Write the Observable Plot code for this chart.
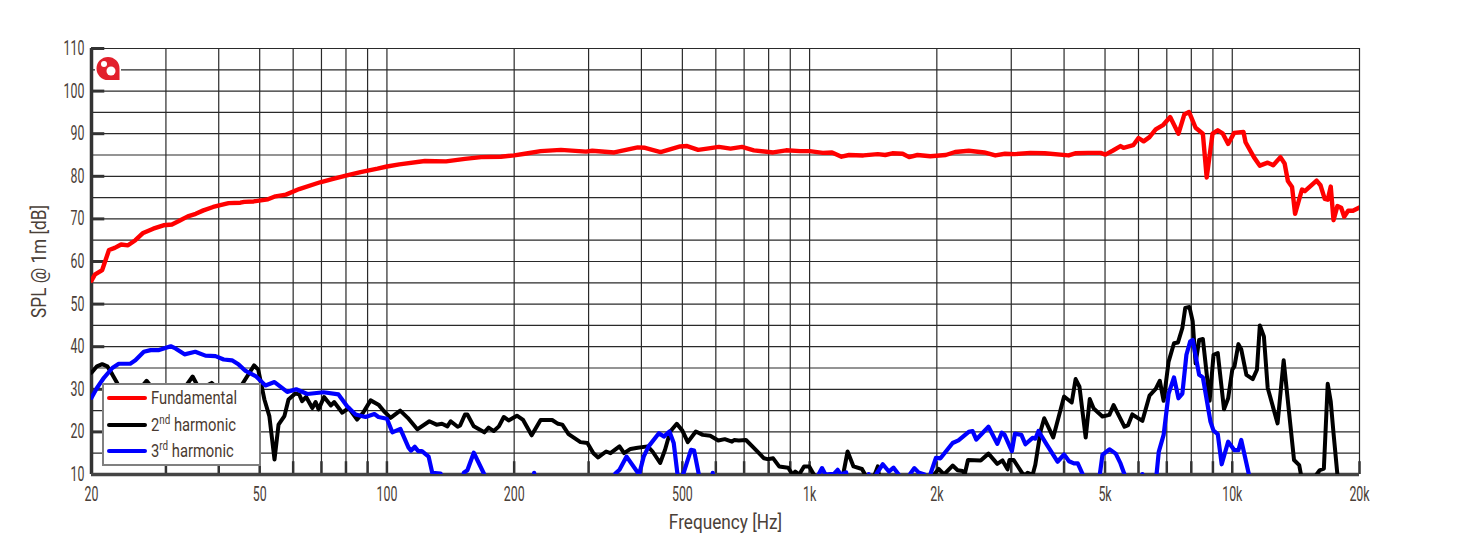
<!DOCTYPE html>
<html><head><meta charset="utf-8">
<script src="https://cdn.jsdelivr.net/npm/d3@7"></script>
<script src="https://cdn.jsdelivr.net/npm/@observablehq/plot@0.6"></script>
<style>
html,body{margin:0;padding:0;background:#fff;}
#wrap{position:relative;width:1457px;height:538px;overflow:hidden;}
#wrap svg{display:block;}
#wrap svg text{font-family:Roboto,sans-serif;}
#legend{position:absolute;left:102px;top:383px;width:155px;height:79px;border:2px solid #808080;background:#fff;
 font-family:Roboto,sans-serif;font-size:18px;color:#4a3a30;}
#legend .row{position:absolute;left:3px;height:20px;white-space:nowrap;}
#legend .s{position:absolute;left:0;top:9px;width:40px;height:4px;border-radius:2px;}
#legend .t{position:absolute;left:44px;top:0;line-height:22px;transform:scaleX(.82);transform-origin:left center;}
#legend sup{font-size:12px;line-height:0;}
#logo{position:absolute;left:95px;top:55px;}
</style></head><body>
<div id="wrap"></div>
<script>
const fundFreq=[20,20.4,21.2,22,22.7,23.5,24.4,25.4,26.5,28,29.6,31,32.2,33.8,35.3,36.8,38.8,42.2,45,46,48.4,52.3,54.5,57.7,62,69.5,74.6,80.4,86.6,95,100,107,123,138,153,167,186,200,212,231,258,296,306,345,392,408,444,494,513,545,572,610,650,692,738,820,880,950,1000,1075,1130,1190,1240,1340,1450,1510,1570,1660,1720,1800,1930,2100,2210,2380,2590,2750,2900,3060,3330,3600,4100,4250,4560,4880,5010,5210,5440,5530,5830,6000,6170,6370,6590,6870,7130,7460,7700,7900,8190,8520,8700,8980,9240,9500,9780,10100,10630,10750,11250,11620,12130,12500,13000,13300,13540,13850,14080,14620,14850,15830,16170,16550,16820,17100,17360,17730,18100,18400,18800,19300,20000];
const fundDb=[55.5,57,58,62.7,63.2,64,63.8,65,66.7,67.7,68.5,68.7,69.5,70.6,71.2,72,72.8,73.7,73.8,74,74.1,74.6,75.3,75.7,77,78.6,79.4,80.2,81,81.8,82.3,82.8,83.6,83.5,84.1,84.5,84.6,84.9,85.3,85.9,86.2,85.8,86,85.6,86.8,86.7,85.7,87,87.1,86.2,86.5,86.9,86.5,86.9,86.1,85.6,86.1,85.9,85.9,85.5,85.6,84.6,85,84.9,85.2,85,85.4,85.3,84.5,85,84.7,85,85.7,86,85.6,84.9,85.3,85.2,85.5,85.4,84.9,85.4,85.5,85.5,85.1,86,87.1,86.7,87.3,89,88.2,89.2,91,92.1,93.9,90,94.5,95.1,91.4,90,79.7,90,90.8,90,87.6,90.2,90.4,88,84.5,82.5,83.2,82.6,84.5,83,78.9,77.5,71.2,76.9,76.5,79,77.9,74.7,74.5,77.6,69.7,73,72.6,70.5,71.9,71.9,72.7];

const secondFreq=[20,20.6,21.2,21.8,22.4,23,24,26,27,28,30,33,34.7,36,38.5,41,44,46,48.5,49.6,51.3,52.7,54.2,55.4,57.2,58.5,60.7,62,63,64.4,66.6,67.8,68.9,71,73.7,75,78.4,81.2,85,87.8,91.5,95.5,98.3,102,107.5,112,118,126,131,135,139,141.5,147,149,153,155,160.5,170,174,179,184,189,194,203,210,220,231,246,254,260,269,287,298,308,316,330,338,355,364,377,392,414,425,443,455,468,485,500,515,538,559,582,608,630,655,663,680,707,737,766,780,795,820,847,890,912,925,945,970,998,1025,1040,1180,1200,1230,1270,1330,1355,1390,1425,1450,1480,1900,1970,2020,2080,2180,2240,2300,2330,2370,2540,2650,2780,2860,2940,2970,3040,3190,3240,3280,3370,3420,3520,3590,3770,4000,4170,4260,4350,4500,4600,4700,4930,5120,5240,5380,5560,5670,5800,6130,6370,6590,6740,6880,7070,7280,7440,7620,7740,7920,8060,8190,8350,8520,8840,9030,9240,9560,9780,10000,10120,10340,10500,10800,11180,11440,11620,11880,12130,12800,13230,14000,14400,14550,14800,15600,15830,16100,16470,16820,17100,17360,17730,18000,20000];
const secondDb=[33.9,35.4,35.9,35.4,33.5,31.5,27,30,32,30,28,30,33,30,31.5,29,29,32,35.6,34.6,27.6,23.7,13.5,21.7,23.7,27.6,29,28.8,27.2,28.2,25.6,27,25.3,28.2,26.2,27,24.5,25.6,22.9,24.5,27.4,26.4,24.9,23.3,25,23.3,20.6,22.5,21.7,21.9,21.3,22.5,21.2,21.5,24.1,24.1,21.3,19.9,21,20.2,21.3,23.5,22.7,23.8,22.8,19.2,22.8,22.8,21.9,21.7,19.5,17.6,17.4,15,14,15.4,15,16.6,15,16,16.3,16.6,15.4,12.7,15.8,20.1,21.9,20.3,17.6,20.1,19.3,19.1,18,18.3,17.7,18.1,18,18.1,16.3,14.6,13.8,13.6,13.8,11.9,11.6,9.9,10.7,10,11.9,11.9,9.9,5,5,9.9,15.4,11.9,11.3,9.9,5,9.9,11.9,5,5,10,11.3,10,12.1,11,10.8,10.2,13.4,13.3,14.9,12.5,13.3,11.2,13.4,13.4,10.2,9.9,10.4,9.9,12.3,20.2,23.2,18.7,28.3,26.9,32.4,30.6,18.7,27.7,25.5,23.6,24,26.3,24,21.2,21.6,24.1,22.6,28.5,30.1,32,27.3,36.5,40.8,41,44.4,49.1,49.3,46,36.1,41.6,41.8,27.3,38.1,38.5,25.3,27.9,34.6,35.4,40.6,39.4,33.4,32.4,34.6,45,42.4,30.3,22,36.8,13.4,12.2,9.8,5,5,10,11,11.4,31.3,27.1,19.7,10,5,5];

const thirdFreq=[20,20.6,21.4,22.4,23.2,24.7,25.4,26.6,27.6,28.9,30.8,31.6,33.2,35.2,37.2,39.3,41.1,43,44.6,46.3,48.9,51.6,54.2,58.1,61,64.8,70.8,76.8,80.5,84.3,89,93.4,95.5,100,103,107.6,112.5,114,116.4,118.6,121,125.5,128,134,137,150,152,155,160.5,170,174,220,223,226,340,347,355,369,395,405,416,440,452,466,477,487,495,502,524,533,547,555,585,590,595,1040,1050,1070,1090,1120,1140,1165,1185,1220,1240,1370,1380,1390,1430,1440,1490,1540,1580,1625,1700,1730,1770,1810,1870,1900,1930,1990,2040,2180,2250,2380,2430,2480,2650,2780,2850,2890,3010,3060,3170,3240,3370,3420,3480,3640,3860,4000,4110,4220,4310,4430,4500,4800,4860,4930,5120,5300,5440,5560,5650,6100,6130,6160,6500,6620,6700,6880,7070,7280,7460,7620,7790,7950,8060,8350,8520,8880,9030,9240,9440,9780,10120,10340,10500,10950,11200,20000];
const thirdDb=[28,30.3,32.7,35,36,36,36.8,38.8,39.2,39.2,40.1,39.6,38.2,38.8,37.9,37.8,37,36.8,35.8,34.3,33.1,30.9,31.7,29.4,30,28.9,29.3,28.8,26,24.1,23.5,24.2,23.5,23.1,19.9,20.7,16.3,15.6,16.5,15.5,15.5,14.2,10.4,10.2,5,5,10.4,11,15.1,10,5,5,10.4,5,5,10.2,11.1,14.2,10,14.2,16.6,19.7,18.9,20.1,17.4,10,5,10,15.8,15.6,10,5,5,10.4,5,5,10,11.5,10,10.1,10.1,11.1,10,10.5,5,5,10.1,5,5,10.2,12.4,10.7,11.6,10,5,10.2,11.5,10.5,10,5,10,13.9,13.8,17.4,18,20,20.2,18.2,21.2,17.2,19.8,19.4,15.5,19.6,19.3,17.1,18.6,18.4,20.2,17,13,14.7,13.1,12.6,12.6,10,5,5,10,14.6,15.9,14.9,12.6,10,5,5,10.1,5,5,10,15.3,19.3,29,32.8,27.9,29,38.1,41.2,41.6,33.4,32.8,22.4,20.3,19.5,12.4,17.7,15.7,15.7,18.1,10,5,5];

const gridFreq=[20,30,40,50,60,70,80,90,100,200,300,400,500,600,700,800,900,1000,2000,3000,4000,5000,6000,7000,8000,9000,10000,20000];
const labelFreq=[20,50,100,200,500,1000,2000,5000,10000,20000];
const gridDb=[10,15,20,25,30,35,40,45,50,55,60,65,70,75,80,85,90,95,100,105,110];
const labelDb=[10,20,30,40,50,60,70,80,90,100,110];
const legendItems=[["Fundamental","#ff0000"],["2<sup>nd</sup> harmonic","#000000"],["3<sup>rd</sup> harmonic","#0000ff"]];

const table=(f,d)=>f.map((x,i)=>({f:x,db:d[i]}));
const fmtX=v=>v>=1000?(v/1000)+"k":String(v);
const txt="#4a4038";

const chart=Plot.plot({
  width:1457,height:538,
  marginLeft:91,marginRight:98,marginTop:48,marginBottom:64,
  style:{background:"#fff",overflow:"visible"},
  x:{type:"log",domain:[20,20000]},
  y:{domain:[10,110]},
  marks:[
    Plot.ruleX(gridFreq,{stroke:"#2a2a2a",strokeWidth:1.2}),
    Plot.ruleY(gridDb,{stroke:"#2a2a2a",strokeWidth:1.2}),
    Plot.ruleY(labelDb,{x1:20,x2:21.5,stroke:"#333",strokeWidth:3}),
    Plot.ruleX(gridFreq,{y1:10,y2:13,stroke:"#333",strokeWidth:2.5}),
    Plot.ruleX([20],{stroke:"#333",strokeWidth:3.5}),
    Plot.ruleY([10],{stroke:"#444",strokeWidth:3.5}),
    Plot.line(table(fundFreq,fundDb),{x:"f",y:"db",stroke:"#ff0000",strokeWidth:4.4,curve:"linear",clip:true}),
    Plot.line(table(secondFreq,secondDb),{x:"f",y:"db",stroke:"#000",strokeWidth:4,curve:"linear",clip:true}),
    Plot.line(table(thirdFreq,thirdDb),{x:"f",y:"db",stroke:"#0000ff",strokeWidth:4.2,curve:"linear",clip:true}),
    Plot.axisX(labelFreq,{tickSize:0,tickPadding:12,tickFormat:fmtX,fontSize:20,fill:txt,label:"Frequency [Hz]",labelAnchor:"center",labelArrow:"none",labelOffset:54}),
    Plot.axisY(labelDb,{tickSize:0,tickPadding:7,fontSize:20,fill:txt,label:"SPL @ 1m [dB]",labelAnchor:"center",labelArrow:"none",labelOffset:60})
  ]
});
const wrap=document.getElementById("wrap");
wrap.appendChild(chart);

// narrow the real text to the reference's condensed face
chart.querySelectorAll("text").forEach(t=>{
  const s=t.textContent;
  const isLabel=/Frequency|SPL/.test(s);
  const factor=isLabel?.86:.62;
  const w=t.getComputedTextLength();
  t.setAttribute("textLength",(w*factor).toFixed(1));
  t.setAttribute("lengthAdjust","spacingAndGlyphs");
});

const legend=document.createElement("div");
legend.id="legend";
legendItems.forEach(([t,c],i)=>{
  const r=document.createElement("div");
  r.className="row";
  r.style.top=(2+i*26.5)+"px";
  r.innerHTML=`<div class="s" style="background:${c}"></div><div class="t">${t}</div>`;
  legend.appendChild(r);
});
wrap.appendChild(legend);

const logo=document.createElement("div");
logo.id="logo";
logo.innerHTML=`<svg width="26" height="26" viewBox="0 0 26 26"><rect width="26" height="26" fill="#fff"/><path d="M13 2a11.5 11.5 0 0 1 11.5 11.5V25H13A11.5 11.5 0 0 1 13 2z" fill="#e2202c"/><circle cx="9" cy="9" r="3" fill="#fff"/><circle cx="16" cy="16" r="4.5" fill="#fff"/></svg>`;
wrap.appendChild(logo);
</script>
</body></html>
